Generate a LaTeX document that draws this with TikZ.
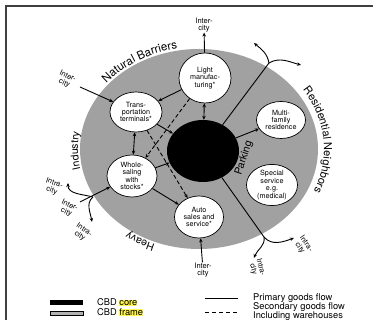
\documentclass[tikz,border=0pt]{standalone}
\usepackage{fontspec}
\setmainfont{TeX Gyre Heros}
\usetikzlibrary{shapes.geometric,arrows.meta,decorations.text}

\begin{document}
\begin{tikzpicture}[
  x=1pt, y=1pt,
  font=\fontsize{7.2}{7.4}\selectfont,
  land/.style={ellipse, draw=black, line width=0.7pt, fill=white, inner sep=0pt, align=center},
  lbl/.style={align=center, inner sep=0pt, font=\fontsize{7.5}{7.6}\selectfont},
  arr/.style={-{Stealth[length=4pt,width=3.5pt]}, line width=0.9pt},
  darr/.style={{Stealth[length=4pt,width=3.5pt]}-{Stealth[length=4pt,width=3.5pt]}, line width=0.9pt},
  sec/.style={arr, dash pattern=on 4pt off 2.5pt},
  ring/.style={decorate, decoration={text along path, text align=center}},
  legend/.style={anchor=west, inner sep=0pt, align=left, font=\fontsize{9.3}{9}\selectfont}
]
\useasboundingbox (0,0) rectangle (373,320);
\draw[line width=1.2pt, black!75] (6,0) -- (6,314) -- (373,314);

\fill[black!37] (199,171) ellipse [x radius=119, y radius=100];
\node[ellipse, fill=black, minimum width=72pt, minimum height=62pt, inner sep=0pt] (core) at (203,169) {};

\node[land, minimum width=52pt, minimum height=50pt] (light) at (205,242) {Light\\manufac-\\turing*};
\node[land, minimum width=52pt, minimum height=40pt] (trans) at (136,208) {Trans-\\portation\\terminals*};
\node[land, minimum width=49pt, minimum height=37pt] (multi) at (281,200) {Multi-\\family\\residence};
\node[land, minimum width=50pt, minimum height=42pt] (whole) at (132,144) {Whole-\\saling\\with\\stocks*};
\node[land, minimum width=51pt, minimum height=41pt] (special) at (272,135) {Special\\service\\e.g.\\(medical)};
\node[land, minimum width=49pt, minimum height=42pt] (auto) at (199,103) {Auto\\sales and\\service*};

\node[lbl] (ictop) at (204,295) {Inter-\\city};
\node[lbl, rotate=-25] (ictl) at (66,240) {Inter-\\city};
\node[lbl] (icbot) at (203,50) {Inter-\\city};
\node[lbl, rotate=-20] (iclup) at (53,133) {Intra-\\city};
\node[lbl, rotate=-25] (icl) at (68,111) {Inter-\\city};
\node[lbl, rotate=-35] (icldn) at (82,87) {Intra-\\city};
\node[lbl, rotate=-75] (icrdn) at (257,52) {Intra-\\city};
\node[lbl, rotate=-55] (icrr) at (303,74) {Intra-\\city};
\node[rotate=72, font=\fontsize{10.5}{10.5}\selectfont] (parking) at (244,162) {Parking};

\coordinate (tlstart) at (80,233);
\coordinate (lstart) at (80,118);
\coordinate (lsplit) at (93,123);
\coordinate (lup) at (68,137);
\coordinate (ldn) at (92,98);
\coordinate (trsplit) at (269,257);
\coordinate (trup) at (254,277);
\coordinate (trright) at (301,255);
\coordinate (brsplit) at (264,83);
\coordinate (brdn) at (254,62);
\coordinate (brright) at (294,82);

\path[ring, decoration={text={|\fontsize{11.5}{12}\selectfont|Natural Barriers}}]
  (199,171) ++(156:121 and 102) arc[start angle=156, end angle=86, x radius=121, y radius=102];
\path[ring, decoration={text={|\fontsize{11}{12}\selectfont|Residential Neighbors}}]
  (199,171) ++(50:125 and 106) arc[start angle=50, end angle=-40, x radius=125, y radius=106];
\path[ring, decoration={text={|\fontsize{10.5}{11}\selectfont|Industry}}]
  (199,171) ++(205:121 and 102) arc[start angle=205, end angle=157, x radius=121, y radius=102];
\path[ring, decoration={text={|\fontsize{10.5}{11}\selectfont|Heavy}}]
  (199,171) ++(262:121 and 102) arc[start angle=262, end angle=220, x radius=121, y radius=102];

\draw[arr] (light) -- (ictop);
\draw[arr] (tlstart) -- (trans);
\draw[arr] (icbot) -- (auto);
\draw[arr] (lstart) -- (whole);
\draw[arr] (lsplit) to[out=165, in=-90] (lup);
\draw[arr] (lsplit) to[out=220, in=100] (ldn);
\draw[line width=0.9pt] (core) -- (trsplit);
\draw[arr] (trsplit) to[out=100, in=-40] (trup);
\draw[arr] (trsplit) to[out=30, in=165] (trright);
\draw[line width=0.9pt] (core) -- (brsplit);
\draw[arr] (brsplit) to[out=-80, in=70] (brdn);
\draw[arr] (brsplit) to[out=-50, in=200] (brright);

\draw[arr] (light) -- (trans);
\draw[darr] (light) -- (core);
\draw[arr] (trans) -- (core);
\draw[darr] (trans) -- (whole);
\draw[arr] (whole) -- (core);
\draw[arr] (whole) -- (auto);
\draw[arr] (core) -- (multi);
\draw[sec] (light) -- (whole);
\draw[sec] (trans) -- (auto);

\fill[black] (50,15) rectangle (83,20);
\filldraw[fill=black!30, draw=black, line width=0.8pt] (50,4.5) rectangle (83,9);
\setlength{\fboxsep}{0pt}
\node[legend] (lcore) at (97,18) {CBD \colorbox{yellow!70}{core}};
\node[legend] (lframe) at (97,8) {CBD \colorbox{yellow!70}{frame}};
\draw[line width=0.8pt] (205,22) -- (238,22);
\node[legend] (lprim) at (253,22) {Primary goods flow};
\draw[line width=0.8pt, dash pattern=on 4pt off 3pt] (205,8) -- (238,8);
\node[legend] (lsec) at (253,8.5) {Secondary goods flow\\Including warehouses};
\end{tikzpicture}
\end{document}
